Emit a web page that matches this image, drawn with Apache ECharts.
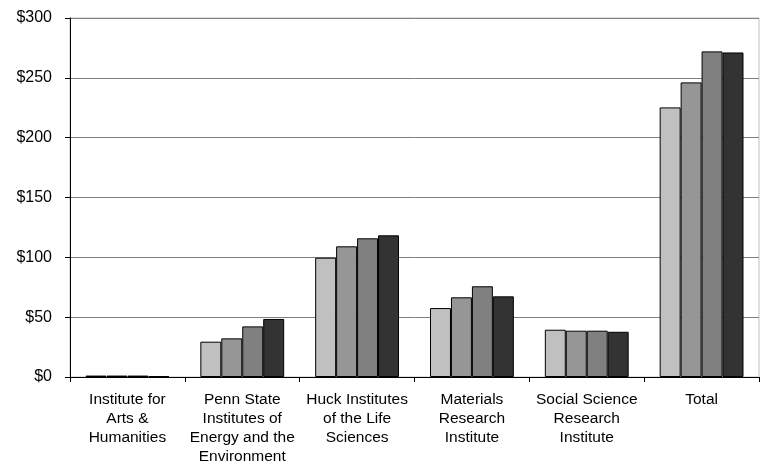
<!DOCTYPE html>
<html>
<head>
<meta charset="utf-8">
<script src="https://cdn.jsdelivr.net/npm/echarts@6/dist/echarts.min.js"></script>
<style>html,body{margin:0;padding:0;background:#fff}#c{width:760px;height:464px}</style>
</head>
<body>
<div id="c"></div>
<script>
const categories = [
  "Institute for\nArts &\nHumanities",
  "Penn State\nInstitutes of\nEnergy and the\nEnvironment",
  "Huck Institutes\nof the Life\nSciences",
  "Materials\nResearch\nInstitute",
  "Social Science\nResearch\nInstitute",
  "Total"
];
const series1 = [1.2, 29.5, 99.7, 57.6, 39.5, 225.3];
const series2 = [1.2, 32.3, 109.2, 66.6, 38.7, 246.2];
const series3 = [1.2, 42.3, 115.9, 75.8, 38.7, 272.1];
const series4 = [0.6, 48.5, 118.4, 67.4, 37.8, 271.2];
const seriesNames = ["Year 1", "Year 2", "Year 3", "Year 4"];
const yTicks = [0, 50, 100, 150, 200, 250, 300];
const colors = ["#c0c0c0", "#969696", "#808080", "#333333"];

const chart = echarts.init(document.getElementById('c'), null, {renderer: 'canvas'});
const font = "'Liberation Sans', Arial, sans-serif";
const data = [series1, series2, series3, series4];
chart.setOption({
  animation: false,
  grid: {left: 70, right: 1, top: 18, bottom: 87, show: true, borderColor: '#c0c0c0', borderWidth: 1,
         containLabel: false, outerBoundsMode: 'none'},
  xAxis: {
    type: 'category',
    data: categories,
    axisLine: {lineStyle: {color: '#000', width: 1}},
    axisTick: {show: true, length: 5, lineStyle: {color: '#000'}},
    axisLabel: {color: '#000', fontFamily: font, fontSize: 15.5, lineHeight: 19, margin: 13, interval: 0}
  },
  yAxis: {
    type: 'value',
    min: yTicks[0], max: yTicks[yTicks.length - 1], interval: 50,
    axisLine: {show: true, lineStyle: {color: '#000', width: 1}},
    axisTick: {show: true, length: 5, lineStyle: {color: '#000'}},
    splitLine: {show: true, lineStyle: {color: '#808080', width: 1}},
    axisLabel: {color: '#000', fontFamily: font, fontSize: 16, margin: 18, formatter: v => '$' + v}
  },
  series: data.map((d, i) => ({
    name: seriesNames[i],
    type: 'bar',
    data: d,
    barGap: '0%',
    barCategoryGap: '27%',
    itemStyle: {color: colors[i], borderColor: '#000', borderWidth: 1}
  }))
});
</script>
</body>
</html>
